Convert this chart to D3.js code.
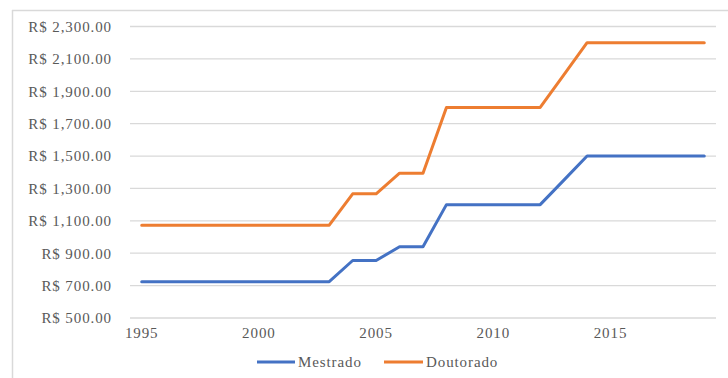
<!DOCTYPE html>
<html><head><meta charset="utf-8">
<script src="https://cdn.jsdelivr.net/npm/d3@7"></script>
<style>body{margin:0;background:#fff;}svg{display:block;} text{font-family:"Liberation Serif","Times New Roman","DejaVu Serif",serif;}</style>
</head><body>
<script>
const years = [1995,1996,1997,1998,1999,2000,2001,2002,2003,2004,2005,2006,2007,2008,2009,2010,2011,2012,2013,2014,2015,2016,2017,2018,2019];
const mestrado = [724.52,724.52,724.52,724.52,724.52,724.52,724.52,724.52,724.52,855,855,940,940,1200,1200,1200,1200,1200,1350,1500,1500,1500,1500,1500,1500];
const doutorado = [1072.89,1072.89,1072.89,1072.89,1072.89,1072.89,1072.89,1072.89,1072.89,1267,1267,1394,1394,1800,1800,1800,1800,1800,2000,2200,2200,2200,2200,2200,2200];
const yTicks = [500,700,900,1100,1300,1500,1700,1900,2100,2300];
const xTickYears = [1995,2000,2005,2010,2015];
const seriesNames = ["Mestrado","Doutorado"];
const colors = ["#4472C4","#ED7D31"];

const W=728,H=378;
const svg=d3.select("body").append("svg").attr("width",W).attr("height",H);
const font='"Liberation Serif","Times New Roman","DejaVu Serif",serif';

// chart border
svg.append("line").attr("x1",12).attr("x2",W).attr("y1",10.5).attr("y2",10.5).attr("stroke","#d9d9d9").attr("stroke-width",1.5);
svg.append("line").attr("x1",12.5).attr("x2",12.5).attr("y1",10).attr("y2",H).attr("stroke","#d9d9d9").attr("stroke-width",1.5);

const x0=130,x1=716;
const x=d3.scaleBand().domain(years).range([x0,x1]);
const y=d3.scaleLinear().domain([500,2300]).range([318,26.5]);

const grid=svg.append("g");
grid.selectAll("line").data(yTicks).join("line")
 .attr("x1",x0).attr("x2",x1).attr("y1",d=>y(d)).attr("y2",d=>y(d))
 .attr("stroke","#d9d9d9").attr("stroke-width",1.3);

const fmt=d3.format(",.2f");
const yAxis=d3.axisLeft(y).tickValues(yTicks).tickSize(0).tickPadding(0).tickFormat(d=>"R$ "+fmt(d));
const ya=svg.append("g").attr("transform","translate(112,0)").call(yAxis);
ya.select(".domain").remove();
ya.selectAll("text").attr("font-family",null).style("font-family",font).style("font-size","15px").attr("fill","#595959").style("letter-spacing","0.9px");

const xAxis=d3.axisBottom(x).tickValues(xTickYears).tickSize(0).tickPadding(0);
const xa=svg.append("g").attr("transform","translate(0,327)").call(xAxis);
xa.attr("font-family",null).attr("font-size",null);
ya.attr("font-family",null).attr("font-size",null);
xa.select(".domain").remove();
xa.selectAll("text").style("font-family",font).style("font-size","15px").attr("fill","#595959").style("letter-spacing","0.9px");

const cx=d=>x(d)+x.bandwidth()/2;
const line=d3.line().x((d,i)=>cx(years[i])).y(d=>y(d));
[mestrado,doutorado].forEach((s,k)=>{
  svg.append("path").datum(s).attr("d",line).attr("fill","none")
   .attr("stroke",colors[k]).attr("stroke-width",3).attr("stroke-linejoin","round").attr("stroke-linecap","round");
});

// legend
const leg=[{x:257,w:38},{x:384,w:39}];
seriesNames.forEach((n,k)=>{
  const g=svg.append("g");
  g.append("line").attr("x1",leg[k].x).attr("x2",leg[k].x+leg[k].w).attr("y1",362).attr("y2",362)
   .attr("stroke",colors[k]).attr("stroke-width",3);
  g.append("text").attr("x",leg[k].x+leg[k].w+3).attr("y",367).text(n)
   .style("font-family",font).style("font-size","15px").attr("fill","#595959").style("letter-spacing","0.9px");
});
</script>
</body></html>
